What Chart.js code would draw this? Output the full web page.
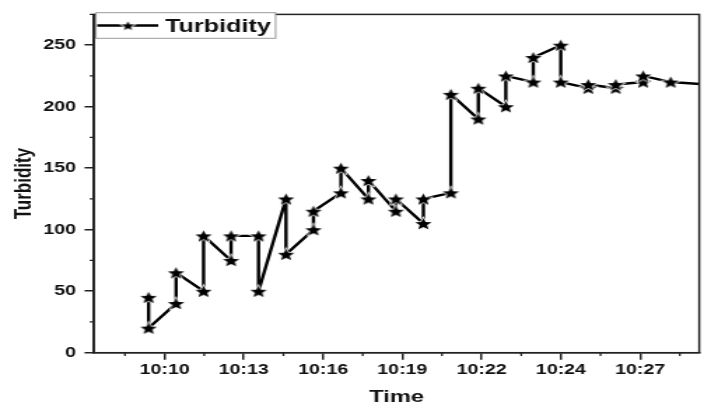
<!DOCTYPE html>
<html>
<head>
<meta charset="utf-8">
<script src="https://cdn.jsdelivr.net/npm/chart.js@4.4.1/dist/chart.umd.min.js"></script>
<style>
  html, body { margin: 0; padding: 0; background: #fff; overflow: hidden; }
  #wrap { width: 508px; height: 408px; transform: scaleX(1.3996); transform-origin: 0 0; }
  #c { display: block; }
</style>
</head>
<body>
<div id="wrap"><canvas id="c" width="508" height="408"></canvas></div>
<script>
// ---- data (x = minute index of the reading, y = turbidity) ----
const timeMinutes = [9, 9, 10, 10, 11, 11, 12, 12, 13, 13, 14, 14, 15, 15, 16, 16, 17, 17, 18, 18,
                     19, 19, 20, 20, 21, 21, 22, 22, 23, 23, 24, 24, 25, 25, 26, 26, 27, 27, 28, 30];
const turbidity   = [45, 20, 40, 65, 50, 95, 75, 95, 95, 50, 125, 80, 100, 115, 130, 150, 125, 140, 115, 125,
                     105, 125, 130, 210, 190, 215, 200, 225, 220, 240, 250, 220, 215, 218, 215, 218, 220, 225, 220, 217];
const xTickPositions = [9.58, 12.465, 15.35, 18.235, 21.12, 24.005, 26.89];
const xTickLabels    = ['10:10', '10:13', '10:16', '10:19', '10:22', '10:24', '10:27'];
const yTickValues    = [0, 50, 100, 150, 200, 250];
const yMinorValues   = [25, 75, 125, 175, 225, 275];
const seriesName = 'Turbidity';

const FONT = '"Liberation Sans", Arial, sans-serif';
const INK = '#111';

function makeStar(r) {
  const s = Math.ceil(r * 2 + 4);
  const c = document.createElement('canvas');
  c.width = s; c.height = s;
  const g = c.getContext('2d');
  g.beginPath();
  for (let i = 0; i < 10; i++) {
    const rad = (i % 2) ? r * 0.44 : r;
    const a = -Math.PI / 2 + i * Math.PI / 5;
    g.lineTo(s / 2 + rad * Math.cos(a), s / 2 + 0.7 + rad * Math.sin(a));
  }
  g.closePath();
  g.lineWidth = 1.5; g.strokeStyle = '#fff'; g.stroke();
  g.fillStyle = '#000'; g.fill();
  return c;
}
const star = makeStar(6.2);

const xMinor = [];
for (let i = 0; i < xTickPositions.length - 1; i++) xMinor.push((xTickPositions[i] + xTickPositions[i + 1]) / 2);
xMinor.unshift(xTickPositions[0] - (xTickPositions[1] - xTickPositions[0]) / 2);
xMinor.push(xTickPositions[xTickPositions.length - 1] + (xTickPositions[1] - xTickPositions[0]) / 2);

const framePlugin = {
  id: 'frame',
  afterDraw(chart) {
    const { ctx, chartArea: a, scales } = chart;
    ctx.save();
    ctx.strokeStyle = '#222';
    ctx.lineWidth = 1.5;
    ctx.strokeRect(a.left, a.top, a.right - a.left, a.bottom - a.top);
    ctx.lineWidth = 1.3;
    ctx.beginPath();
    xMinor.forEach(v => {
      const px = scales.x.getPixelForValue(v);
      if (px >= a.left && px <= a.right) { ctx.moveTo(px, a.bottom); ctx.lineTo(px, a.bottom + 3.3); }
    });
    yMinorValues.forEach(v => {
      const py = scales.y.getPixelForValue(v);
      if (py >= a.top - 0.5 && py <= a.bottom) { ctx.moveTo(a.left, py); ctx.lineTo(a.left - 3, py); }
    });
    ctx.stroke();
    // legend box
    const bx = 68.6, by = 12.7, bw = 128.3, bh = 25.6;
    ctx.fillStyle = '#fff';
    ctx.fillRect(bx, by, bw, bh);
    ctx.strokeStyle = '#999';
    ctx.lineWidth = 1;
    ctx.strokeRect(bx, by, bw, bh);
    const cy = by + bh / 2;
    ctx.strokeStyle = '#000';
    ctx.lineWidth = 2.3;
    ctx.beginPath();
    ctx.moveTo(69.5, cy); ctx.lineTo(113, cy);
    ctx.stroke();
    const ls = makeStar(4.8);
    ctx.drawImage(ls, 91.4 - ls.width / 2, cy - ls.height / 2);
    ctx.fillStyle = INK;
    ctx.font = 'bold 18px ' + FONT;
    ctx.textBaseline = 'alphabetic';
    ctx.textAlign = 'left';
    ctx.fillText(seriesName, 117.9, 32.3);
    ctx.restore();
  }
};

new Chart(document.getElementById('c'), {
  type: 'line',
  data: {
    datasets: [{
      label: seriesName,
      data: timeMinutes.map((t, i) => ({ x: t, y: turbidity[i] })),
      borderColor: '#000',
      borderWidth: 2.4,
      borderJoinStyle: 'round',
      pointStyle: star,
      pointRadius: 6,
      tension: 0,
      clip: 0
    }]
  },
  options: {
    responsive: false,
    devicePixelRatio: 1,
    animation: false,
    layout: { padding: { top: 10, right: 5, bottom: 0, left: 0 } },
    plugins: { legend: { display: false }, tooltip: { enabled: false } },
    scales: {
      x: {
        type: 'linear',
        min: 7.01, max: 29.04,
        afterBuildTicks: s => { s.ticks = xTickPositions.map(v => ({ value: v })); },
        afterFit: s => { s.height = 55.3; },
        ticks: {
          autoSkip: false, maxRotation: 0, padding: 2,
          color: INK, font: { family: FONT, size: 14, weight: 'bold' },
          callback: (v, i) => xTickLabels[i]
        },
        grid: { display: true, drawOnChartArea: false, drawTicks: true, tickLength: 7, color: '#222', lineWidth: 1.5 },
        border: { display: true, color: '#222', width: 1.5 },
        title: { display: true, text: 'Time', color: INK, font: { family: FONT, size: 17, weight: 'bold' }, padding: { top: 0, bottom: 0 } }
      },
      y: {
        type: 'linear',
        min: 0, max: 275,
        afterBuildTicks: s => { s.ticks = yTickValues.map(v => ({ value: v })); },
        afterFit: s => { s.width = 67.1; },
        ticks: {
          padding: 6,
          color: INK, font: { family: FONT, size: 14, weight: 'bold' }
        },
        grid: { display: true, drawOnChartArea: false, drawTicks: true, tickLength: 6.7, color: '#222', lineWidth: 1.5 },
        border: { display: true, color: '#222', width: 1.5 },
        title: { display: true, text: 'Turbidity', color: INK, font: { family: FONT, size: 17, weight: 'bold' }, padding: { top: 7, bottom: 0 } }
      }
    }
  },
  plugins: [framePlugin]
});
</script>
</body>
</html>
